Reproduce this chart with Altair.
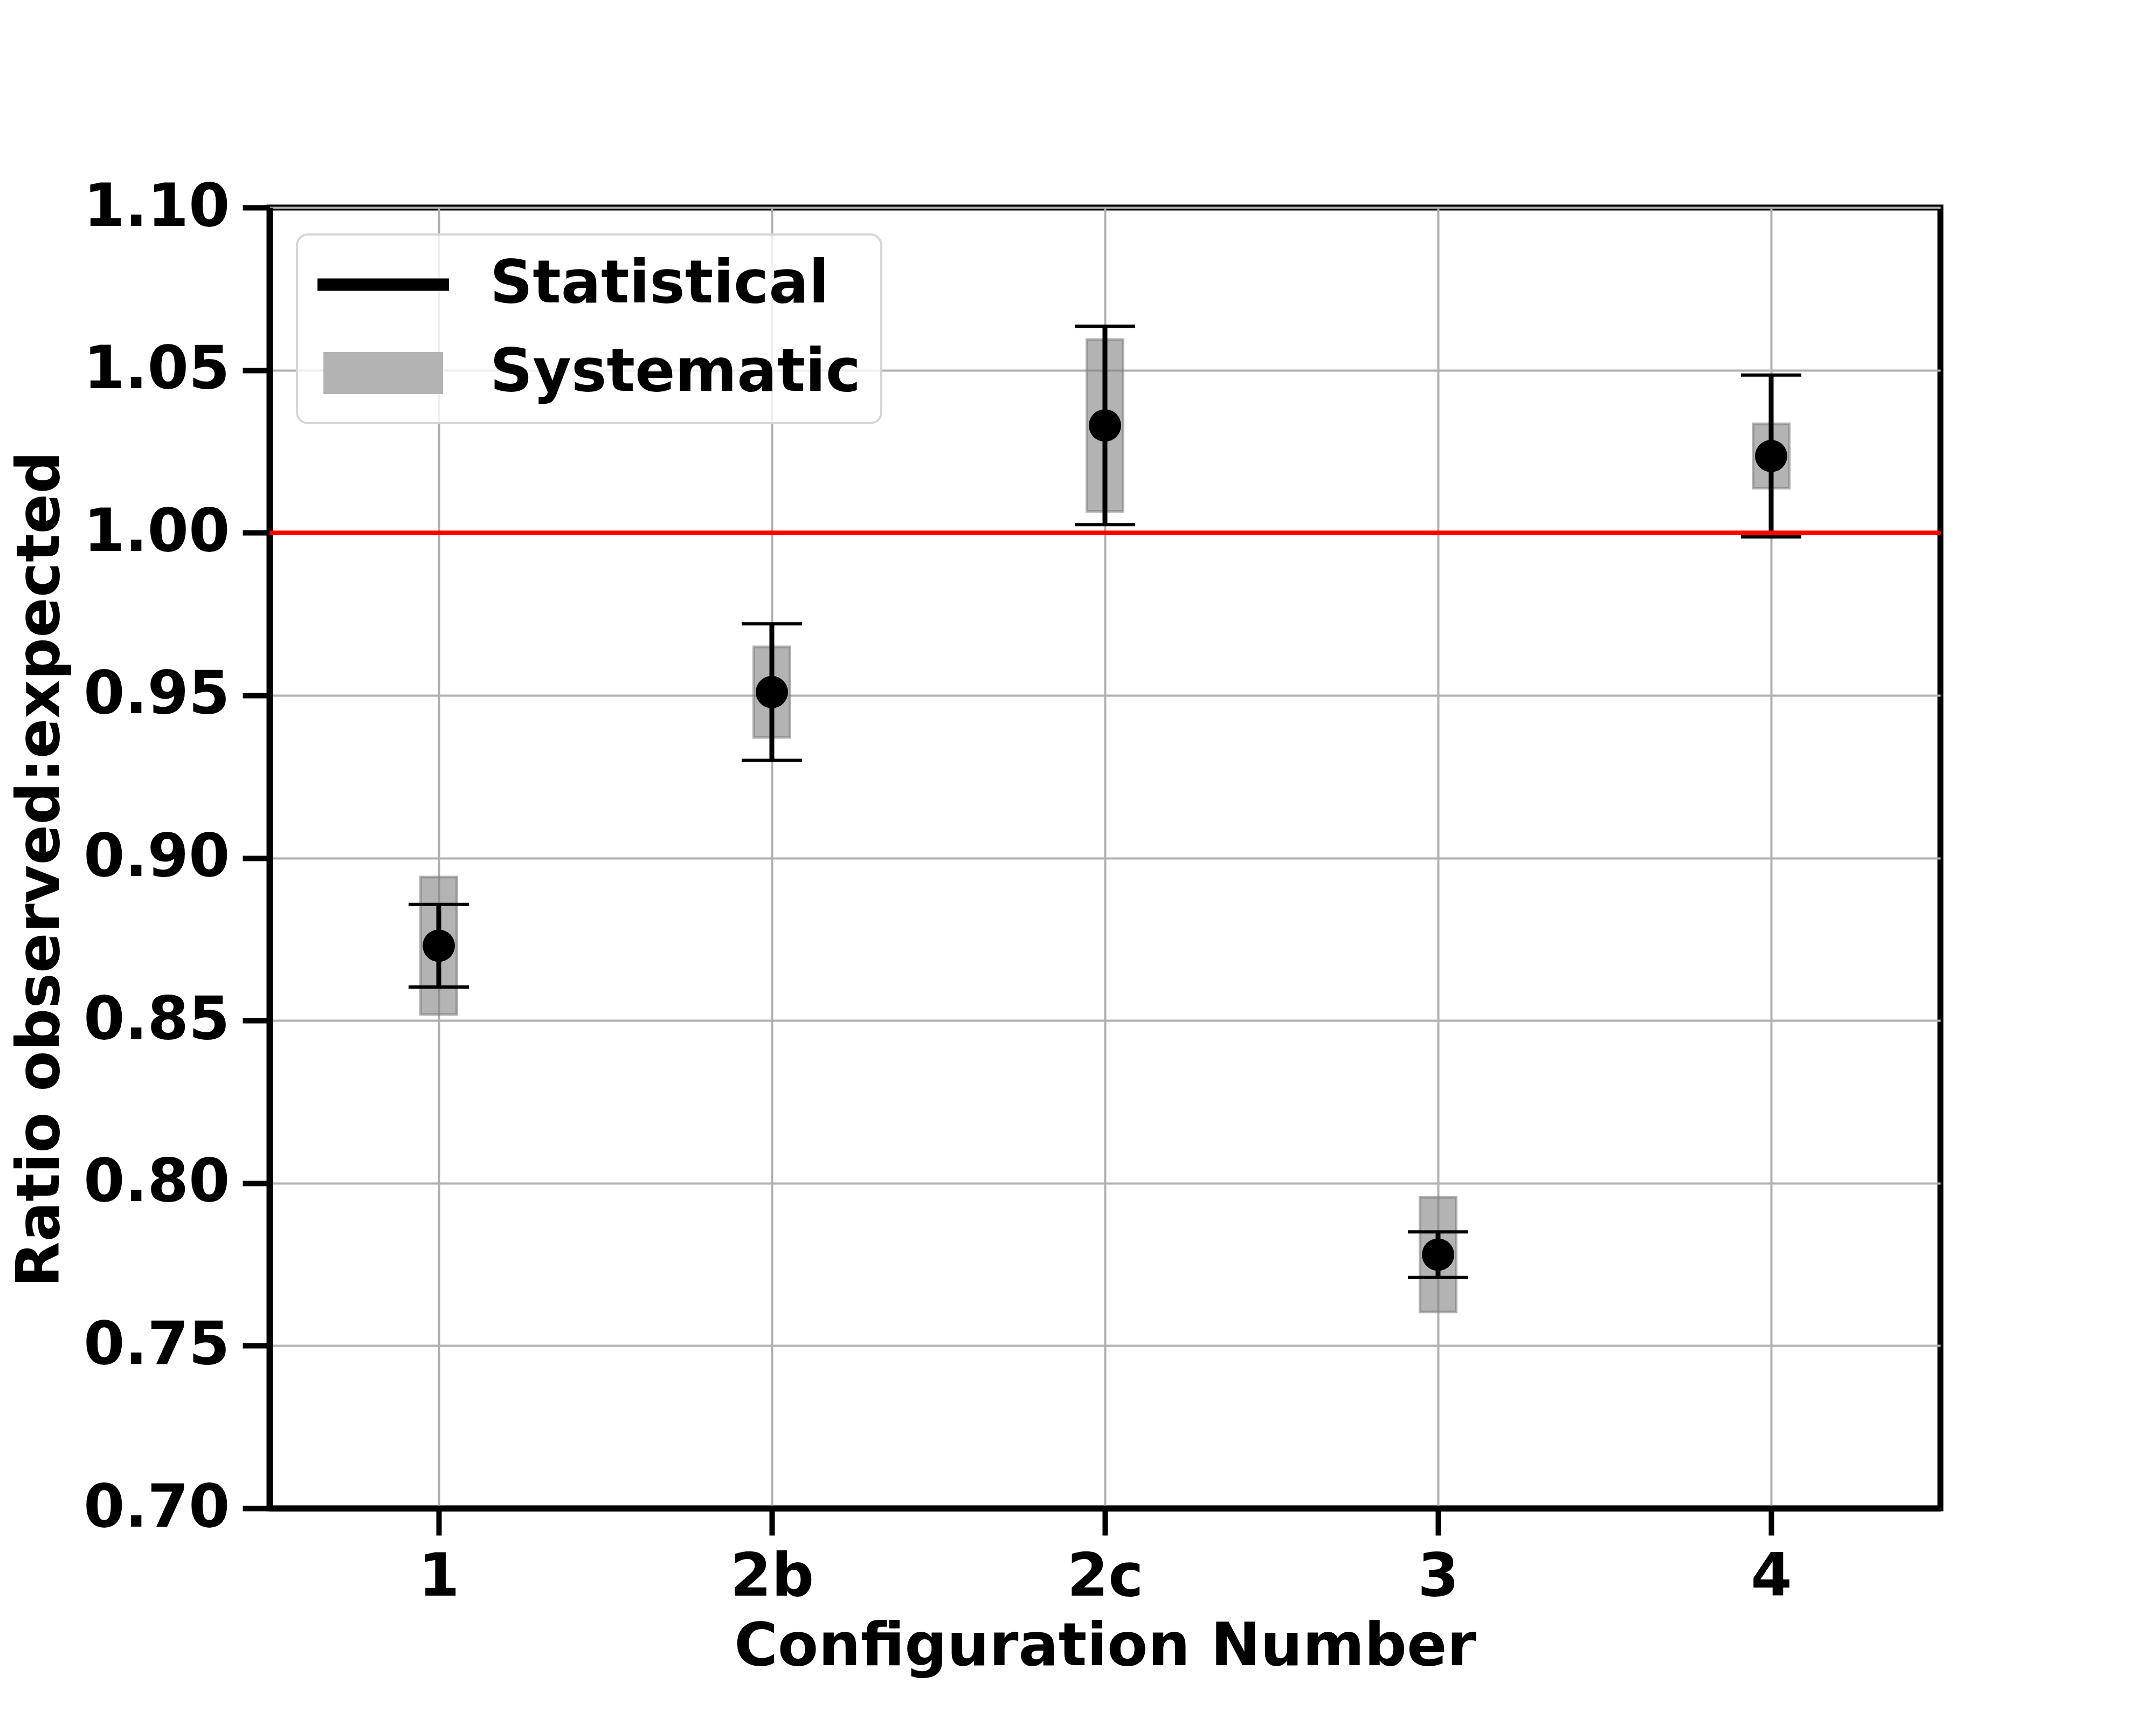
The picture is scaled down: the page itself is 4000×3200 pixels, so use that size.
import altair as alt
import pandas as pd

# ---- data ----
configs = ["1", "2b", "2c", "3", "4"]
ratio = [0.873, 0.951, 1.033, 0.778, 1.0236]
stat_err = [0.0127, 0.021, 0.0305, 0.007, 0.0249]
sys_err = [0.0211, 0.0139, 0.0264, 0.0176, 0.0099]
y_ticks = [0.70, 0.75, 0.80, 0.85, 0.90, 0.95, 1.00, 1.05, 1.10]
reference_line = [1.0]
legend_items = ["Statistical", "Systematic"]

pos = list(range(len(configs)))
df = pd.DataFrame({
    "pos": pos,
    "config": configs,
    "ratio": ratio,
    "stat_lo": [r - e for r, e in zip(ratio, stat_err)],
    "stat_hi": [r + e for r, e in zip(ratio, stat_err)],
    "sys_lo": [r - e for r, e in zip(ratio, sys_err)],
    "sys_hi": [r + e for r, e in zip(ratio, sys_err)],
})
ref_df = pd.DataFrame({"y": reference_line})
leg_df = pd.DataFrame({"kind": legend_items, "pos": [pos[0]] * 2, "ratio": [ratio[0]] * 2})

FONT = "DejaVu Sans"
label_expr = "[" + ",".join("'%s'" % c for c in configs) + "][datum.value]"

x_enc = alt.X(
    "pos:Q",
    scale=alt.Scale(domain=[-0.5, len(configs) - 0.5], nice=False, zero=False),
    axis=alt.Axis(
        values=pos, labelExpr=label_expr, title="Configuration Number",
        titleY=290, titleX=1550, titleBaseline="alphabetic",
    ),
)
y_scale = alt.Scale(domain=[0.70, 1.10], nice=False, zero=False)
y_axis = alt.Axis(
    values=y_ticks, format=".2f", title="Ratio observed:expected",
    titleX=-392, titleY=1227, titleBaseline="alphabetic", titleAngle=-90,
)

sys_box = alt.Chart(df).mark_bar(
    size=67, fill="#808080", fillOpacity=0.6,
    stroke="#808080", strokeOpacity=0.6, strokeWidth=5,
).encode(
    x=x_enc,
    y=alt.Y("sys_lo:Q", scale=y_scale, axis=y_axis),
    y2="sys_hi:Q",
)

stat_bar = alt.Chart(df).mark_rule(color="black", strokeWidth=9).encode(
    x="pos:Q", y="stat_lo:Q", y2="stat_hi:Q"
)
cap_lo = alt.Chart(df).mark_tick(color="black", orient="horizontal", size=112, thickness=6, opacity=1).encode(
    x="pos:Q", y="stat_lo:Q"
)
cap_hi = alt.Chart(df).mark_tick(color="black", orient="horizontal", size=112, thickness=6, opacity=1).encode(
    x="pos:Q", y="stat_hi:Q"
)
points = alt.Chart(df).mark_circle(color="black", size=3600, opacity=1).encode(
    x="pos:Q", y="ratio:Q"
)
ref = alt.Chart(ref_df).mark_rule(color="#ff0000", strokeWidth=8).encode(y="y:Q")

legend_layer = alt.Chart(leg_df).mark_point(filled=True, opacity=0).encode(
    x="pos:Q",
    y="ratio:Q",
    color=alt.Color(
        "kind:N",
        scale=alt.Scale(domain=legend_items, range=["#000000", "#b3b3b3"]),
        legend=alt.Legend(title=None),
    ),
    shape=alt.Shape(
        "kind:N",
        scale=alt.Scale(
            domain=legend_items,
            range=[
                "M-1,-0.209H3.436V0.209H-1Z",
                "M-0.8,-0.709H3.236V0.709H-0.8Z",
            ],
        ),
        legend=alt.Legend(title=None),
    ),
)

chart = alt.layer(sys_box, stat_bar, cap_lo, cap_hi, points, ref, legend_layer).properties(
    width=3100,
    height=2413,
    background="white",
    autosize=alt.AutoSizeParams(type="none"),
    padding={"left": 492, "top": 377, "right": 392, "bottom": 394},
).configure_view(
    stroke="black", strokeWidth=11, fill="white",
).configure_axis(
    labelFont=FONT, labelFontWeight="bold", labelFontSize=110, labelColor="black",
    titleFont=FONT, titleFontWeight="bold", titleFontSize=110, titleColor="black",
    labelLimit=2000, titleLimit=3000,
    grid=True, gridColor="#b0b0b0", gridWidth=4,
    domain=True, domainColor="black", domainWidth=11,
    ticks=True, tickColor="black", tickSize=50, tickWidth=10,
    labelPadding=24,
).configure_legend(
    orient="none", legendX=51, legendY=50,
    padding=38, rowPadding=54, cornerRadius=20,
    fillColor="rgba(255,255,255,0.8)", strokeColor="#d6d6d6", strokeWidth=4,
    labelFont=FONT, labelFontWeight="bold", labelFontSize=110, labelColor="black",
    labelOffset=210, labelLimit=2000,
    symbolSize=12100, symbolStrokeWidth=0, symbolOpacity=1,
)

chart.save("out.html", embed_options={"renderer": "svg", "actions": False})
